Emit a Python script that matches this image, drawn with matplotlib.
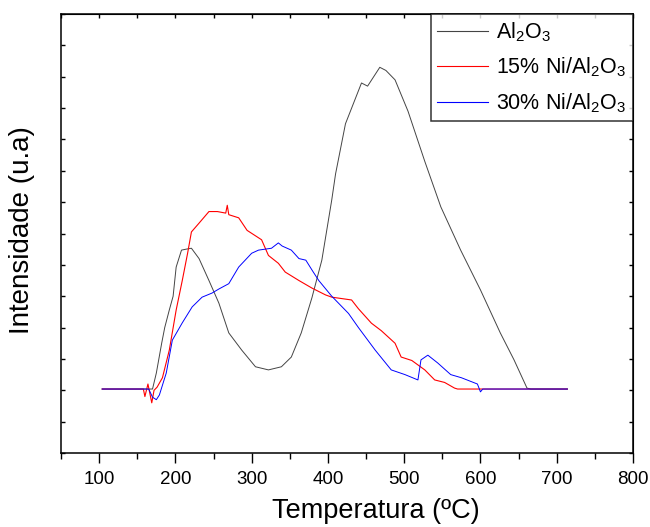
import matplotlib
matplotlib.use('Agg')
import matplotlib.pyplot as plt
from matplotlib.ticker import MultipleLocator, NullFormatter

plt.rcParams['font.family'] = ['Liberation Sans', 'DejaVu Sans']
plt.rcParams['mathtext.fontset'] = 'custom'
plt.rcParams['mathtext.rm'] = 'Liberation Sans'
plt.rcParams['mathtext.it'] = 'Liberation Sans'

# Al2O3
t_al = [104, 170, 175, 182, 186, 192, 197, 201, 208, 214, 221, 231, 244, 257,
        270, 287, 305, 322, 339, 352, 365, 379, 392, 405, 410, 423, 444, 452,
        468, 476, 488, 505, 527, 548, 574, 600, 626, 644, 661, 666, 714]
y_al = [2.04, 2.04, 2.55, 3.5, 4.0, 4.56, 5.0, 5.93, 6.47, 6.5, 6.53, 6.2, 5.5, 4.78,
        3.83, 3.28, 2.75, 2.65, 2.75, 3.06, 3.83, 4.95, 6.15, 8.07, 8.9, 10.5, 11.8, 11.7,
        12.3, 12.2, 11.9, 10.9, 9.3, 7.85, 6.47, 5.2, 3.83, 2.97, 2.07, 2.04, 2.04]

# 15% Ni/Al2O3
t_15 = [104, 158, 160, 164, 169, 172, 176, 183, 192, 201, 209, 216, 221, 231, 244,
        255, 266, 268, 270, 283, 294, 313, 322, 335, 344, 362, 379, 397, 405, 431,
        440, 457, 470, 488, 496, 510, 527, 540, 553, 566, 570, 714]
y_15 = [2.04, 2.04, 1.8, 2.2, 1.6, 2.0, 2.1, 2.4, 3.28, 4.56, 5.5, 6.37, 7.05, 7.33, 7.7,
        7.7, 7.65, 7.9, 7.6, 7.5, 7.1, 6.8, 6.3, 6.05, 5.77, 5.5, 5.26, 5.04, 4.97, 4.88,
        4.6, 4.14, 3.9, 3.5, 3.06, 2.95, 2.65, 2.33, 2.25, 2.07, 2.04, 2.04]

# 30% Ni/Al2O3
t_30 = [104, 165, 170, 175, 179, 188, 196, 209, 222, 235, 248, 257, 270, 283, 300,
        309, 326, 335, 340, 352, 362, 371, 380, 388, 405, 427, 440, 462, 483, 501,
        518, 522, 531, 544, 561, 575, 596, 600, 603, 714]
y_30 = [2.04, 2.04, 1.78, 1.7, 1.85, 2.55, 3.6, 4.15, 4.66, 4.97, 5.1, 5.23, 5.4, 5.93, 6.37,
        6.47, 6.53, 6.7, 6.6, 6.47, 6.2, 6.15, 5.8, 5.5, 5.0, 4.45, 4.0, 3.28, 2.65, 2.5,
        2.33, 2.97, 3.12, 2.87, 2.5, 2.4, 2.2, 1.95, 2.04, 2.04]

labels = ['Al$_2$O$_3$', '15% Ni/Al$_2$O$_3$', '30% Ni/Al$_2$O$_3$']

fig = plt.figure(figsize=(6.5, 5.27), dpi=100)
ax = fig.add_axes([61 / 650, 1 - 453 / 527, 572 / 650, 439 / 527])

ax.plot(t_al, y_al, color='#444444', lw=0.7, label=labels[0])
ax.plot(t_15, y_15, color='red', lw=0.8, label=labels[1])
ax.plot(t_30, y_30, color='blue', lw=0.7, label=labels[2])

ax.set_xlim(50, 800)
ax.set_ylim(0, 14)
ax.xaxis.set_major_locator(MultipleLocator(100))
ax.xaxis.set_minor_locator(MultipleLocator(50))
ax.yaxis.set_major_locator(MultipleLocator(1))
ax.yaxis.set_major_formatter(NullFormatter())
ax.tick_params(axis='x', which='major', direction='out', length=7, width=1,
               labelsize=13.5, pad=6)
ax.tick_params(axis='x', which='minor', direction='out', length=4, width=1)
ax.tick_params(axis='y', which='both', direction='in', length=3, width=1)
for s in ax.spines.values():
    s.set_linewidth(1.1)

top = ax.secondary_xaxis('top')
top.xaxis.set_major_locator(MultipleLocator(50))
top.tick_params(direction='in', length=3, width=1, labeltop=False)
right = ax.secondary_yaxis('right')
right.yaxis.set_major_locator(MultipleLocator(1))
right.tick_params(direction='in', length=3, width=1, labelright=False)

ax.set_xlabel('Temperatura (ºC)', fontsize=19.5)
ax.xaxis.set_label_coords(0.551, -0.103)
ax.set_ylabel('Intensidade (u.a)', fontsize=20)
ax.yaxis.set_label_coords(-0.045, 0.508)

leg = ax.legend(loc='upper right', fontsize=15.5, frameon=True, fancybox=False,
                edgecolor='black', borderpad=0.3, labelspacing=0.55,
                handlelength=2.35, handletextpad=0.4, borderaxespad=0)
leg.get_frame().set_linewidth(1.1)
for h in leg.get_lines():
    h.set_linewidth(0.8)

fig.savefig('out.png', dpi=100)
